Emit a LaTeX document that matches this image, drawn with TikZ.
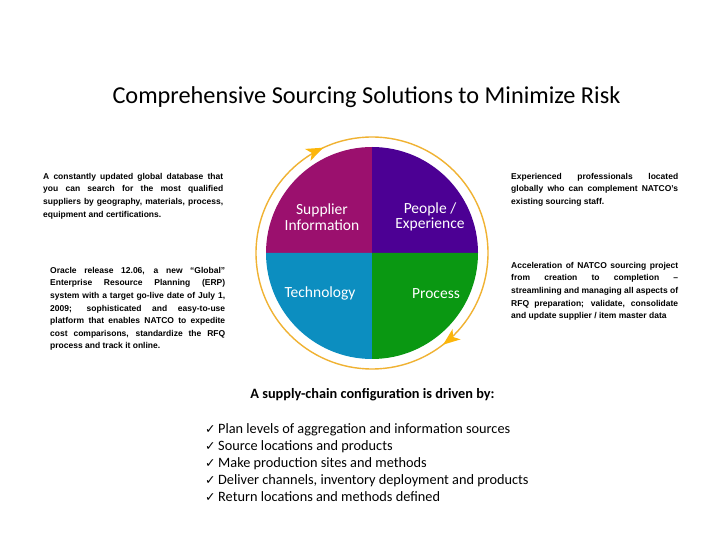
\documentclass[tikz,border=0pt]{standalone}
\usepackage{fontspec}
\setmainfont{Carlito}
\newfontfamily\arialfont{Liberation Sans}
\newfontfamily\symfont{DejaVu Sans}
\usetikzlibrary{arrows.meta,decorations.markings}
\definecolor{supcol}{RGB}{155,16,110}
\definecolor{peocol}{RGB}{76,0,148}
\definecolor{tecol}{RGB}{12,142,192}
\definecolor{procol}{RGB}{10,152,18}
\definecolor{ringcol}{RGB}{240,178,50}
\definecolor{arrcol}{RGB}{252,182,10}
\newcommand\jl[2]{\makebox[#1][s]{#2}}
\newcommand\chk{\makebox[13pt][l]{\symfont\fontsize{12.5}{14}\selectfont ✓}}
\begin{document}
\begin{tikzpicture}[x=1pt,y=1pt,
  desc/.style={inner sep=0pt, anchor=north west, align=left,
    font=\arialfont\bfseries\fontsize{8.5}{12.6}\selectfont},
  pielabel/.style={text=white, align=center, inner sep=0pt,
    font=\fontsize{15.5}{15.5}\selectfont},
  listitem/.style={anchor=base west, inner sep=0pt, font=\fontsize{14.3}{17}\selectfont},
  ring/.style={draw=ringcol, line width=1.4pt}]
\useasboundingbox (0,0) rectangle (728,546);
\fill[white] (0,0) rectangle (728,546);

% pie
\coordinate (c) at (372,293);
\fill[supcol] (c) -- ++(-106,0) arc[start angle=180,end angle=90,radius=106] -- cycle;
\fill[peocol] (c) -- ++(0,106) arc[start angle=90,end angle=0,radius=106] -- cycle;
\fill[tecol] (c) -- ++(-106,0) arc[start angle=180,end angle=270,radius=106] -- cycle;
\fill[procol] (c) -- ++(0,-106) arc[start angle=270,end angle=360,radius=106] -- cycle;

% ring with arrows (clockwise)
\draw[ring, postaction={decorate}, decoration={markings,
    mark=at position 0.145 with {\arrow[color=arrcol]{Stealth[length=17pt,width=13pt,inset=4.5pt]}},
    mark=at position 0.681 with {\arrow[color=arrcol]{Stealth[length=17pt,width=13pt,inset=4.5pt]}}}]
  ([xshift=116pt]c) arc[start angle=0,end angle=-360,radius=116];

% pie labels
\node[pielabel] (sup) at (322,329) {Supplier\\Information};
\node[pielabel] (peo) at (430,329) {People /\\Experience};
\node[pielabel] (tec) at (320,253) {Technology};
\node[pielabel] (pro) at (436,252) {Process};

% title
\node[anchor=base, inner sep=0pt, font=\fontsize{24.3}{28}\selectfont] (title) at (366.5,442)
  {Comprehensive Sourcing Solutions to Minimize Risk};

% side descriptions
\node[desc] (d1) at (43,373) {%
\jl{180pt}{A constantly updated global database that}\\
\jl{180pt}{you can search for the most qualified}\\
\jl{180pt}{suppliers by geography, materials, process,}\\
equipment and certifications.};

\node[desc] (d2) at (50,279) {%
\jl{175pt}{Oracle release 12.06, a new “Global”}\\
\jl{175pt}{Enterprise Resource Planning (ERP)}\\
\jl{175pt}{system with a target go-live date of July 1,}\\
\jl{175pt}{2009; sophisticated and easy-to-use}\\
\jl{175pt}{platform that enables NATCO to expedite}\\
\jl{175pt}{cost comparisons, standardize the RFQ}\\
process and track it online.};

\node[desc] (d3) at (511,373) {%
\jl{167pt}{Experienced professionals located}\\
\jl{167pt}{globally who can complement NATCO’s}\\
existing sourcing staff.};

\node[desc] (d4) at (511,284) {%
\jl{167pt}{Acceleration of NATCO sourcing project}\\
\jl{167pt}{from creation to completion –}\\
\jl{167pt}{streamlining and managing all aspects of}\\
\jl{167pt}{RFQ preparation; validate, consolidate}\\
and update supplier / item master data};

% bottom list
\node[anchor=base, inner sep=0pt, font=\bfseries\fontsize{14.3}{17}\selectfont] (head) at (372.5,147)
  {A supply-chain configuration is driven by:};
\node[listitem] (l1) at (205,112) {\chk Plan levels of aggregation and information sources};
\node[listitem] (l2) at (205,95) {\chk Source locations and products};
\node[listitem] (l3) at (205,78) {\chk Make production sites and methods};
\node[listitem] (l4) at (205,61.5) {\chk Deliver channels, inventory deployment and products};
\node[listitem] (l5) at (205,44.5) {\chk Return locations and methods defined};
\end{tikzpicture}
\end{document}
